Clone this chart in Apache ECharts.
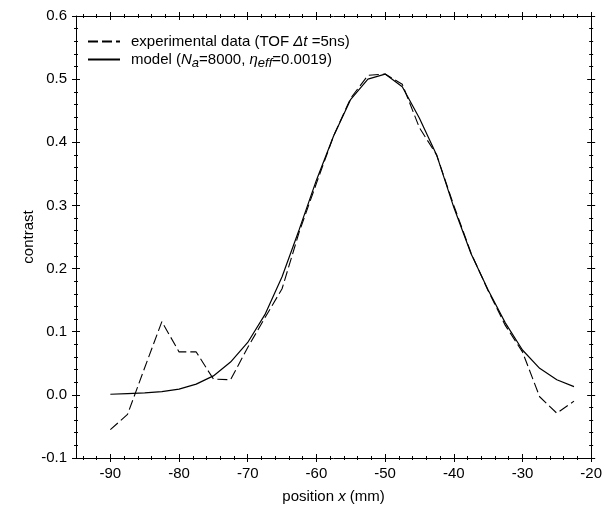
<!DOCTYPE html>
<html>
<head>
<meta charset="utf-8">
<script src="https://cdn.jsdelivr.net/npm/echarts@6/dist/echarts.min.js"></script>
<style>
  html, body { margin: 0; padding: 0; background: #fff; }
  #chart { width: 605px; height: 510px; }
</style>
</head>
<body>
<div id="chart"></div>
<script>
// positions (mm)
const positions = [-90, -87.5, -85, -82.5, -80, -77.5, -75, -72.5, -70, -67.5, -65, -62.5, -60, -57.5,
  -55, -52.5, -50, -47.5, -45, -42.5, -40, -37.5, -35, -32.5, -30, -27.5, -25, -22.5]
const measured = [-0.055, -0.031, 0.043, 0.116, 0.068, 0.068, 0.025, 0.024, 0.075, 0.122, 0.168, 0.258,
  0.335, 0.41, 0.47, 0.506, 0.508, 0.492, 0.423, 0.38, 0.30, 0.225, 0.165, 0.11, 0.068, -0.003, -0.029, -0.01]
const model = [0.001, 0.002, 0.003, 0.005, 0.009, 0.017, 0.030, 0.052, 0.083, 0.127, 0.187, 0.262,
  0.340, 0.41, 0.468, 0.500, 0.508, 0.488, 0.438, 0.38, 0.297, 0.224, 0.166, 0.114, 0.071, 0.042, 0.024, 0.013]

const xMajor = [-90, -80, -70, -60, -50, -40, -30, -20]
const yMajor = [-0.1, 0, 0.1, 0.2, 0.3, 0.4, 0.5, 0.6]

const X_MIN = -95, X_MAX = -20, Y_MIN = -0.1, Y_MAX = 0.6
const font = "'Liberation Sans', Arial, sans-serif"
const fs = 15

const minorX = []
for (let v = -94; v < -20; v += 2) if (v % 10 !== 0) minorX.push(v)
const minorY = []
for (let i = -4; i < 30; i++) if (i % 5 !== 0) minorY.push(+(i * 0.02).toFixed(2))

// one axis per tick set, so ticks can cross the frame
const tickAxis = (dim, position, values, len, inside) => ({
  type: 'value',
  position,
  min: dim === 'x' ? X_MIN : Y_MIN,
  max: dim === 'x' ? X_MAX : Y_MAX,
  axisLine: { show: false, onZero: false },
  axisLabel: { show: false },
  splitLine: { show: false },
  axisTick: { show: true, inside, length: len, customValues: values, lineStyle: { color: '#000', width: 1 } }
})

const ticksFor = (dim, position, major) => [
  tickAxis(dim, position, major, 4, true),
  tickAxis(dim, position, dim === 'x' ? minorX : minorY, 2, true),
  tickAxis(dim, position, dim === 'x' ? minorX : minorY, 2, false)
]

const frame = (dim, position) => ({
  type: 'value',
  position,
  min: dim === 'x' ? X_MIN : Y_MIN,
  max: dim === 'x' ? X_MAX : Y_MAX,
  axisLine: { show: true, onZero: false, lineStyle: { color: '#000', width: 1 } },
  axisLabel: { show: false },
  splitLine: { show: false },
  axisTick: { show: true, inside: false, length: 4, customValues: dim === 'x' ? xMajor : yMajor, lineStyle: { color: '#000' } }
})

const xMain = {
  ...frame('x', 'bottom'),
  axisLabel: {
    show: true, customValues: xMajor, margin: 8, color: '#000', fontSize: fs, fontFamily: font,
    formatter: v => String(v)
  },
  name: '{a|position }{i|x}{a| (mm)}',
  nameLocation: 'middle',
  nameGap: 31,
  nameMoveOverlap: false,
  nameTextStyle: {
    rich: {
      a: { fontSize: fs, fontFamily: font, color: '#000' },
      i: { fontSize: fs, fontFamily: font, color: '#000', fontStyle: 'italic' }
    }
  }
}

const yMain = {
  ...frame('y', 'left'),
  axisLabel: {
    show: true, customValues: yMajor, margin: 9, color: '#000', fontSize: fs, fontFamily: font,
    formatter: v => v.toFixed(1)
  },
  name: 'contrast',
  nameLocation: 'middle',
  nameGap: 40,
  nameMoveOverlap: false,
  nameTextStyle: { fontSize: fs, fontFamily: font, color: '#000' }
}

const chart = echarts.init(document.getElementById('chart'))

const option = {
  animation: false,
  backgroundColor: '#fff',
  grid: { left: 76, right: 11, top: 16, bottom: 52 },
  legend: {
    orient: 'vertical',
    left: 82,
    top: 29,
    itemWidth: 32,
    itemHeight: 14,
    itemGap: 3,
    itemStyle: { opacity: 0 },
    data: ['measured', 'model'],
    formatter: name => name === 'measured'
      ? 'experimental data (TOF {i|Δt} =5ns)'
      : 'model ({i|N}{s|a}=8000, {i|η}{s|eff}=0.0019)',
    textStyle: {
      fontSize: fs, fontFamily: font, color: '#000', padding: [0, 0, 0, 6],
      rich: {
        i: { fontSize: fs, fontFamily: font, color: '#000', fontStyle: 'italic' },
        s: { fontSize: 13, fontFamily: font, color: '#000', fontStyle: 'italic', padding: [7, 0, 0, 0] }
      }
    }
  },
  xAxis: [xMain, ...ticksFor('x', 'bottom', xMajor), frame('x', 'top'), ...ticksFor('x', 'top', xMajor)],
  yAxis: [yMain, ...ticksFor('y', 'left', yMajor), frame('y', 'right'), ...ticksFor('y', 'right', yMajor)],
  series: [
    {
      name: 'measured',
      type: 'line',
      data: positions.map((x, i) => [x, measured[i]]),
      symbol: 'none',
      lineStyle: { color: '#000', width: 1.1, type: [10, 4] },
      itemStyle: { color: '#000' }
    },
    {
      name: 'model',
      type: 'line',
      data: positions.map((x, i) => [x, model[i]]),
      symbol: 'none',
      lineStyle: { color: '#000', width: 1.2 },
      itemStyle: { color: '#000' }
    }
  ]
}

chart.setOption(option)
</script>
</body>
</html>
